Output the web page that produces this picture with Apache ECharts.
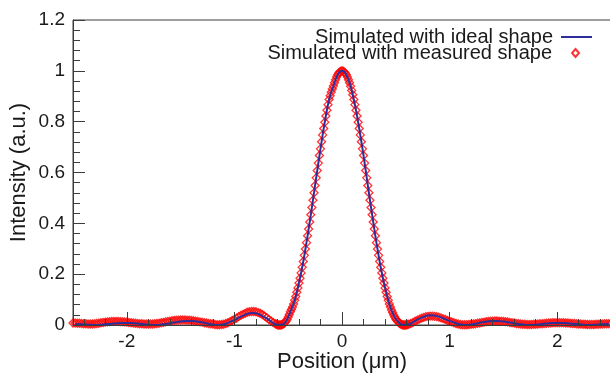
<!DOCTYPE html>
<html>
<head>
<meta charset="utf-8">
<script src="https://cdn.jsdelivr.net/npm/echarts@6/dist/echarts.min.js"></script>
<style>
  html, body { margin: 0; padding: 0; background: #fff; }
  #chart { width: 610px; height: 373px; }
</style>
</head>
<body>
<div id="chart"></div>
<script>
// sample positions (µm) for the measured-shape simulation (red diamonds)
const measuredPositions = [
  -2.50, -2.48, -2.46, -2.44, -2.42, -2.40, -2.38, -2.36, -2.34, -2.32,
  -2.30, -2.28, -2.26, -2.24, -2.22, -2.20, -2.18, -2.16, -2.14, -2.12,
  -2.10, -2.08, -2.06, -2.04, -2.02, -2.00, -1.98, -1.96, -1.94, -1.92,
  -1.90, -1.88, -1.86, -1.84, -1.82, -1.80, -1.78, -1.76, -1.74, -1.72,
  -1.70, -1.68, -1.66, -1.64, -1.62, -1.60, -1.58, -1.56, -1.54, -1.52,
  -1.50, -1.48, -1.46, -1.44, -1.42, -1.40, -1.38, -1.36, -1.34, -1.32,
  -1.30, -1.28, -1.26, -1.24, -1.22, -1.20, -1.18, -1.16, -1.14, -1.12,
  -1.10, -1.08, -1.06, -1.04, -1.02, -1.00, -0.98, -0.96, -0.94, -0.92,
  -0.90, -0.88, -0.86, -0.84, -0.82, -0.80, -0.78, -0.76, -0.74, -0.72,
  -0.70, -0.68, -0.66, -0.64, -0.62, -0.61, -0.60, -0.59, -0.58, -0.57,
  -0.56, -0.55, -0.54, -0.53, -0.52, -0.51, -0.50, -0.49, -0.48, -0.47,
  -0.46, -0.45, -0.44, -0.43, -0.42, -0.41, -0.40, -0.39, -0.38, -0.37,
  -0.36, -0.35, -0.34, -0.33, -0.32, -0.31, -0.30, -0.29, -0.28, -0.27,
  -0.26, -0.25, -0.24, -0.23, -0.22, -0.21, -0.20, -0.19, -0.18, -0.17,
  -0.16, -0.15, -0.14, -0.13, -0.12, -0.11, -0.10, -0.09, -0.08, -0.07,
  -0.06, -0.05, -0.04, -0.03, -0.02, -0.01, 0.00, 0.01, 0.02, 0.03,
  0.04, 0.05, 0.06, 0.07, 0.08, 0.09, 0.10, 0.11, 0.12, 0.13,
  0.14, 0.15, 0.16, 0.17, 0.18, 0.19, 0.20, 0.21, 0.22, 0.23,
  0.24, 0.25, 0.26, 0.27, 0.28, 0.29, 0.30, 0.31, 0.32, 0.33,
  0.34, 0.35, 0.36, 0.37, 0.38, 0.39, 0.40, 0.41, 0.42, 0.43,
  0.44, 0.45, 0.46, 0.47, 0.48, 0.49, 0.50, 0.51, 0.52, 0.53,
  0.54, 0.55, 0.56, 0.57, 0.58, 0.59, 0.60, 0.61, 0.62, 0.64,
  0.66, 0.68, 0.70, 0.72, 0.74, 0.76, 0.78, 0.80, 0.82, 0.84,
  0.86, 0.88, 0.90, 0.92, 0.94, 0.96, 0.98, 1.00, 1.02, 1.04,
  1.06, 1.08, 1.10, 1.12, 1.14, 1.16, 1.18, 1.20, 1.22, 1.24,
  1.26, 1.28, 1.30, 1.32, 1.34, 1.36, 1.38, 1.40, 1.42, 1.44,
  1.46, 1.48, 1.50, 1.52, 1.54, 1.56, 1.58, 1.60, 1.62, 1.64,
  1.66, 1.68, 1.70, 1.72, 1.74, 1.76, 1.78, 1.80, 1.82, 1.84,
  1.86, 1.88, 1.90, 1.92, 1.94, 1.96, 1.98, 2.00, 2.02, 2.04,
  2.06, 2.08, 2.10, 2.12, 2.14, 2.16, 2.18, 2.20, 2.22, 2.24,
  2.26, 2.28, 2.30, 2.32, 2.34, 2.36, 2.38, 2.40, 2.42, 2.44,
  2.46, 2.48, 2.50
];

const measuredIntensity = [
  0.008, 0.008, 0.007, 0.007, 0.006, 0.005, 0.005, 0.004, 0.004, 0.004,
  0.005, 0.006, 0.007, 0.009, 0.010, 0.011, 0.012, 0.013, 0.014, 0.014,
  0.014, 0.014, 0.013, 0.013, 0.012, 0.011, 0.010, 0.009, 0.008, 0.007,
  0.006, 0.005, 0.005, 0.004, 0.004, 0.004, 0.004, 0.004, 0.005, 0.006,
  0.007, 0.009, 0.010, 0.012, 0.014, 0.015, 0.017, 0.018, 0.019, 0.019,
  0.020, 0.020, 0.020, 0.019, 0.019, 0.018, 0.017, 0.015, 0.014, 0.012,
  0.011, 0.009, 0.008, 0.006, 0.005, 0.004, 0.002, 0.001, 0.001, 0.002,
  0.003, 0.006, 0.009, 0.013, 0.018, 0.022, 0.027, 0.033, 0.038, 0.042,
  0.046, 0.050, 0.052, 0.053, 0.053, 0.052, 0.049, 0.046, 0.041, 0.035,
  0.029, 0.022, 0.016, 0.010, 0.005, 0.003, 0.001, 0.000, 0.000, 0.000,
  0.001, 0.003, 0.006, 0.010, 0.015, 0.022, 0.031, 0.041, 0.052, 0.061,
  0.071, 0.083, 0.097, 0.112, 0.129, 0.146, 0.165, 0.184, 0.205, 0.227,
  0.250, 0.274, 0.299, 0.324, 0.351, 0.378, 0.405, 0.434, 0.462, 0.491,
  0.520, 0.549, 0.579, 0.608, 0.637, 0.667, 0.693, 0.721, 0.748, 0.773,
  0.798, 0.822, 0.845, 0.867, 0.887, 0.902, 0.916, 0.929, 0.940, 0.953,
  0.965, 0.976, 0.985, 0.991, 0.996, 0.999, 1.000, 0.999, 0.996, 0.991,
  0.985, 0.976, 0.965, 0.953, 0.939, 0.923, 0.906, 0.887, 0.867, 0.845,
  0.822, 0.798, 0.773, 0.748, 0.721, 0.693, 0.667, 0.637, 0.608, 0.579,
  0.549, 0.520, 0.491, 0.462, 0.434, 0.405, 0.378, 0.351, 0.324, 0.299,
  0.274, 0.250, 0.227, 0.205, 0.184, 0.165, 0.146, 0.129, 0.112, 0.097,
  0.083, 0.071, 0.059, 0.049, 0.039, 0.031, 0.024, 0.018, 0.013, 0.009,
  0.005, 0.003, 0.001, 0.000, 0.000, 0.000, 0.001, 0.002, 0.003, 0.006,
  0.010, 0.015, 0.019, 0.023, 0.027, 0.030, 0.033, 0.034, 0.035, 0.035,
  0.034, 0.033, 0.031, 0.028, 0.025, 0.022, 0.018, 0.015, 0.012, 0.009,
  0.006, 0.004, 0.002, 0.001, 0.001, 0.001, 0.002, 0.003, 0.004, 0.005,
  0.007, 0.008, 0.010, 0.011, 0.013, 0.014, 0.015, 0.015, 0.016, 0.016,
  0.015, 0.015, 0.014, 0.013, 0.012, 0.010, 0.009, 0.008, 0.006, 0.005,
  0.004, 0.003, 0.003, 0.002, 0.002, 0.002, 0.003, 0.003, 0.004, 0.005,
  0.005, 0.006, 0.007, 0.008, 0.008, 0.009, 0.009, 0.009, 0.009, 0.009,
  0.009, 0.008, 0.008, 0.007, 0.006, 0.006, 0.005, 0.004, 0.004, 0.003,
  0.003, 0.002, 0.002, 0.002, 0.002, 0.003, 0.003, 0.004, 0.004, 0.005,
  0.005, 0.005, 0.006
];

// ideal-shape simulation (blue line)
const idealPositions = [
  -2.48, -2.44, -2.40, -2.36, -2.32, -2.28, -2.24, -2.20, -2.16, -2.12,
  -2.08, -2.04, -2.00, -1.96, -1.92, -1.88, -1.84, -1.80, -1.76, -1.72,
  -1.68, -1.64, -1.60, -1.56, -1.52, -1.48, -1.44, -1.40, -1.36, -1.32,
  -1.28, -1.24, -1.20, -1.16, -1.12, -1.08, -1.04, -1.00, -0.96, -0.92,
  -0.88, -0.84, -0.80, -0.76, -0.72, -0.68, -0.64, -0.60, -0.56, -0.52,
  -0.48, -0.44, -0.40, -0.36, -0.32, -0.28, -0.24, -0.20, -0.16, -0.12,
  -0.08, -0.04, 0.00, 0.04, 0.08, 0.12, 0.16, 0.20, 0.24, 0.28,
  0.32, 0.36, 0.40, 0.44, 0.48, 0.52, 0.56, 0.60, 0.64, 0.68,
  0.72, 0.76, 0.80, 0.84, 0.88, 0.92, 0.96, 1.00, 1.04, 1.08,
  1.12, 1.16, 1.20, 1.24, 1.28, 1.32, 1.36, 1.40, 1.44, 1.48,
  1.52, 1.56, 1.60, 1.64, 1.68, 1.72, 1.76, 1.80, 1.84, 1.88,
  1.92, 1.96, 2.00, 2.04, 2.08, 2.12, 2.16, 2.20, 2.24, 2.28,
  2.32, 2.36, 2.40, 2.44, 2.48
];

const idealIntensity = [
  0.004, 0.003, 0.002, 0.001, 0.000, 0.000, 0.001, 0.003, 0.004, 0.006,
  0.007, 0.008, 0.008, 0.008, 0.007, 0.005, 0.003, 0.001, 0.000, 0.000,
  0.002, 0.004, 0.007, 0.010, 0.013, 0.015, 0.016, 0.016, 0.015, 0.012,
  0.009, 0.005, 0.002, 0.000, 0.001, 0.005, 0.012, 0.020, 0.029, 0.037,
  0.044, 0.047, 0.046, 0.040, 0.031, 0.020, 0.008, 0.001, 0.001, 0.015,
  0.052, 0.097, 0.165, 0.250, 0.351, 0.462, 0.579, 0.693, 0.798, 0.887,
  0.940, 0.985, 1.000, 0.985, 0.939, 0.867, 0.773, 0.667, 0.549, 0.434,
  0.324, 0.227, 0.146, 0.083, 0.039, 0.013, 0.001, 0.001, 0.006, 0.016,
  0.025, 0.032, 0.037, 0.038, 0.035, 0.030, 0.023, 0.016, 0.010, 0.004,
  0.001, 0.000, 0.002, 0.005, 0.009, 0.012, 0.015, 0.016, 0.016, 0.015,
  0.013, 0.010, 0.007, 0.004, 0.002, 0.000, 0.000, 0.001, 0.003, 0.005,
  0.007, 0.008, 0.008, 0.008, 0.007, 0.006, 0.004, 0.003, 0.001, 0.000,
  0.000, 0.001, 0.002, 0.003, 0.004
];

const FONT = "'Liberation Sans', Arial, sans-serif";
const AXIS_COLOR = "#3c3c3c";
const TEXT_COLOR = "#1a1a1a";
const LINE_COLOR = "#2e2e9a";
const MARK_COLOR = "#ff0000";

const chart = echarts.init(document.getElementById("chart"), null, { renderer: "canvas" });

chart.setOption({
  animation: false,
  backgroundColor: "#fff",
  grid: {
    left: 73,
    top: 20,
    width: 538,
    height: 305,
    containLabel: false,
    outerBoundsMode: "none",
    show: true,
    borderColor: AXIS_COLOR,
    borderWidth: 1,
    backgroundColor: "transparent",
  },
  legend: [
    {
      data: [{ name: "Simulated with ideal shape", icon: "rect" }],
      right: 18,
      top: 27,
      padding: 0,
      align: "right",
      itemWidth: 31,
      itemHeight: 2,
      textStyle: { fontFamily: FONT, fontSize: 20, color: TEXT_COLOR, padding: [0, 3, 0, 0] },
    },
    {
      data: [{ name: "Simulated with measured shape", icon: "diamond" }],
      right: 30,
      top: 43,
      padding: 0,
      align: "right",
      itemWidth: 7,
      itemHeight: 8,
      textStyle: { fontFamily: FONT, fontSize: 20, color: TEXT_COLOR, padding: [0, 15, 0, 0] },
    },
  ],
  xAxis: {
    type: "value",
    min: -2.5,
    max: 2.5,
    z: 5,
    name: "Position (μm)",
    nameLocation: "middle",
    nameGap: 26,
    nameMoveOverlap: false,
    nameTextStyle: { fontFamily: FONT, fontSize: 22, color: TEXT_COLOR },
    axisLine: { show: true, onZero: false, lineStyle: { color: AXIS_COLOR, width: 1 } },
    axisTick: { show: true, inside: true, length: 13, lineStyle: { color: AXIS_COLOR } },
    minorTick: { show: true, splitNumber: 5, length: 6, lineStyle: { color: AXIS_COLOR } },
    axisLabel: {
      showMinLabel: false,
      showMaxLabel: false,
      margin: 7,
      fontFamily: FONT,
      fontSize: 19,
      color: TEXT_COLOR,
    },
    splitLine: { show: false },
  },
  yAxis: {
    type: "value",
    min: 0,
    max: 1.2,
    interval: 0.2,
    name: "Intensity (a.u.)",
    nameLocation: "middle",
    nameGap: 43,
    nameMoveOverlap: false,
    nameTextStyle: { fontFamily: FONT, fontSize: 22, color: TEXT_COLOR },
    axisLine: { show: true, onZero: false, lineStyle: { color: AXIS_COLOR, width: 1 } },
    axisTick: { show: true, inside: true, length: 12, lineStyle: { color: AXIS_COLOR } },
    minorTick: { show: true, splitNumber: 5, length: 7, lineStyle: { color: AXIS_COLOR } },
    axisLabel: { margin: 8, fontFamily: FONT, fontSize: 19, color: TEXT_COLOR },
    splitLine: { show: false },
  },
  series: [
    {
      name: "Simulated with measured shape",
      type: "scatter",
      z: 2,
      symbol: "diamond",
      symbolSize: 8,
      data: measuredPositions.map((x, i) => [x, measuredIntensity[i]]),
      itemStyle: { color: "rgba(255,255,255,0)", borderColor: MARK_COLOR, borderWidth: 1.3 },
    },
    {
      name: "Simulated with ideal shape",
      type: "line",
      z: 3,
      symbol: "none",
      smooth: 0.4,
      data: idealPositions.map((x, i) => [x, idealIntensity[i]]),
      lineStyle: { color: LINE_COLOR, width: 2 },
      itemStyle: { color: LINE_COLOR },
    },
  ],
});
</script>
</body>
</html>
